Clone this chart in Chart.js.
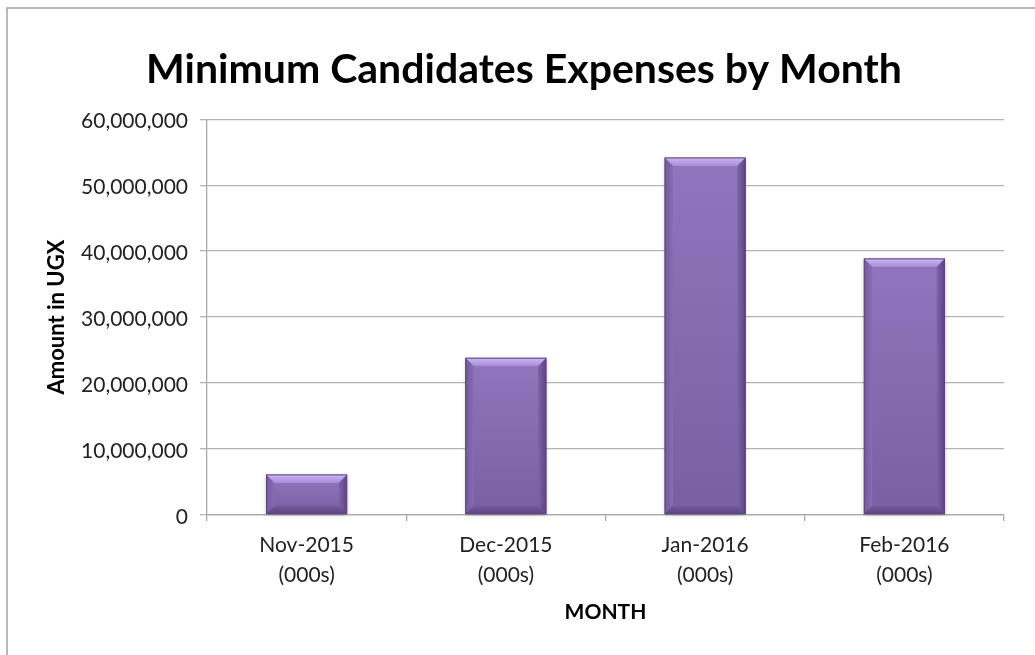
<!DOCTYPE html>
<html>
<head>
<meta charset="utf-8">
<title>Minimum Candidates Expenses by Month</title>
<script src="https://cdn.jsdelivr.net/npm/chart.js@4.4.1/dist/chart.umd.min.js"></script>
<style>
  html, body { margin: 0; padding: 0; background: #ffffff; }
  #wrap { width: 1035px; height: 655px; position: relative; }
</style>
</head>
<body>
<div id="wrap"><canvas id="chart" width="1035" height="655"></canvas></div>
<script>
// Monthly minimum candidate expenses (UGX)
const months = ['Nov-2015', 'Dec-2015', 'Jan-2016', 'Feb-2016'];
const unitNote = '(000s)';
const expenses = [6150000, 23850000, 54200000, 38900000];

// Value axis range
const yMin = 0;
const yMax = 60000000;
const yStep = 10000000;

const chartTitle = 'Minimum Candidates Expenses by Month';
const yTitle = 'Amount in UGX';
const xTitle = 'MONTH';

const FONT = 'Lato, "Open Sans", sans-serif';

// White page with a light frame running off the right and bottom edges
const framePlugin = {
  id: 'frame',
  beforeDraw(chart) {
    const ctx = chart.ctx;
    ctx.save();
    ctx.fillStyle = '#ffffff';
    ctx.fillRect(0, 0, chart.width, chart.height);
    ctx.strokeStyle = '#a3a3a3';
    ctx.lineWidth = 1.5;
    ctx.strokeRect(7, 8, chart.width + 50, chart.height + 50);
    ctx.restore();
  }
};

// Bevelled look for each bar, painted over the bar element the library laid out
const bevelPlugin = {
  id: 'bevel',
  afterDatasetsDraw(chart) {
    const ctx = chart.ctx;
    const meta = chart.getDatasetMeta(0);
    meta.data.forEach((bar) => {
      const { x, y, base, width } = bar.getProps(['x', 'y', 'base', 'width'], true);
      const l = x - width / 2 + 0.5;
      const r = x + width / 2 - 0.5;
      const t = y + 0.5;
      const b = base - 0.5;
      const h = b - t;
      const bev = Math.min(8, h / 2);
      ctx.save();

      // soft drop shadow
      ctx.shadowColor = 'rgba(0,0,0,0.22)';
      ctx.shadowBlur = 4;
      ctx.shadowOffsetY = 1;
      const face = ctx.createLinearGradient(0, t, 0, b);
      face.addColorStop(0, '#9176be');
      face.addColorStop(1, '#7a5fa3');
      ctx.fillStyle = face;
      ctx.fillRect(l, t, r - l, h);
      ctx.shadowColor = 'transparent';
      ctx.shadowBlur = 0;
      ctx.shadowOffsetY = 0;

      // top bevel
      const top = ctx.createLinearGradient(0, t, 0, t + bev);
      top.addColorStop(0, '#cbb6f5');
      top.addColorStop(1, '#a58dd6');
      ctx.fillStyle = top;
      ctx.beginPath();
      ctx.moveTo(l, t); ctx.lineTo(r, t); ctx.lineTo(r - bev, t + bev); ctx.lineTo(l + bev, t + bev);
      ctx.closePath(); ctx.fill();

      // left bevel
      const lg = ctx.createLinearGradient(l, 0, l + bev, 0);
      lg.addColorStop(0, '#7459a0');
      lg.addColorStop(1, '#886cb5');
      ctx.fillStyle = lg;
      ctx.beginPath();
      ctx.moveTo(l, t); ctx.lineTo(l + bev, t + bev); ctx.lineTo(l + bev, b - bev); ctx.lineTo(l, b);
      ctx.closePath(); ctx.fill();

      // right bevel
      const rg = ctx.createLinearGradient(r, 0, r - bev, 0);
      rg.addColorStop(0, '#5c4484');
      rg.addColorStop(1, '#8064ab');
      ctx.fillStyle = rg;
      ctx.beginPath();
      ctx.moveTo(r, t); ctx.lineTo(r, b); ctx.lineTo(r - bev, b - bev); ctx.lineTo(r - bev, t + bev);
      ctx.closePath(); ctx.fill();

      // bottom bevel
      const bg = ctx.createLinearGradient(0, b, 0, b - bev);
      bg.addColorStop(0, '#5e4683');
      bg.addColorStop(1, '#735a9c');
      ctx.fillStyle = bg;
      ctx.beginPath();
      ctx.moveTo(l, b); ctx.lineTo(l + bev, b - bev); ctx.lineTo(r - bev, b - bev); ctx.lineTo(r, b);
      ctx.closePath(); ctx.fill();

      // outline
      ctx.strokeStyle = '#5a4580';
      ctx.lineWidth = 1;
      ctx.strokeRect(l, t, r - l, h);
      ctx.restore();
    });
  }
};

const ctx = document.getElementById('chart').getContext('2d');
new Chart(ctx, {
  type: 'bar',
  data: {
    labels: months.map((m) => [m, unitNote]),
    datasets: [{
      label: yTitle,
      data: expenses,
      backgroundColor: '#8469b0',
      borderColor: '#5a4580',
      borderWidth: 1,
      barPercentage: 0.408,
      categoryPercentage: 1.0
    }]
  },
  options: {
    responsive: false,
    animation: false,
    layout: { padding: { left: 44, right: 31, top: 0, bottom: 26 } },
    plugins: {
      legend: { display: false },
      tooltip: { enabled: false },
      title: {
        display: true,
        text: chartTitle,
        color: '#000000',
        font: { family: FONT, size: 41, weight: 'bold', lineHeight: 1.2 },
        padding: { top: 45, bottom: 25 }
      }
    },
    scales: {
      x: {
        grid: {
          offset: true,
          drawOnChartArea: false,
          drawTicks: true,
          tickLength: 6,
          color: '#a8a8a8',
          lineWidth: 1.3
        },
        border: { display: true, color: '#a8a8a8', width: 1.3 },
        ticks: {
          color: '#222222',
          padding: 9,
          maxRotation: 0,
          font: { family: FONT, size: 21, lineHeight: 1.43 }
        },
        title: {
          display: true,
          text: xTitle,
          color: '#000000',
          font: { family: FONT, size: 21, weight: 'bold', lineHeight: 1.2 },
          padding: { top: 4, bottom: 4 }
        },
        afterFit(scale) { scale.height = 114; }
      },
      y: {
        min: yMin,
        max: yMax,
        grid: {
          color: '#b3b3b3',
          lineWidth: 1.3,
          tickLength: 7,
          drawTicks: true
        },
        border: { display: true, color: '#a8a8a8', width: 1.3 },
        ticks: {
          stepSize: yStep,
          color: '#222222',
          padding: 12,
          labelOffset: 2,
          font: { family: FONT, size: 21 },
          callback: (v) => Number(v).toLocaleString('en-US')
        },
        title: {
          display: true,
          text: yTitle,
          color: '#000000',
          font: { family: FONT, size: 22, weight: 'bold', lineHeight: 1.2 },
          padding: { top: 0, bottom: 0 }
        },
        afterFit(scale) { scale.width = 163; }
      }
    }
  },
  plugins: [framePlugin, bevelPlugin]
});
</script>
</body>
</html>
